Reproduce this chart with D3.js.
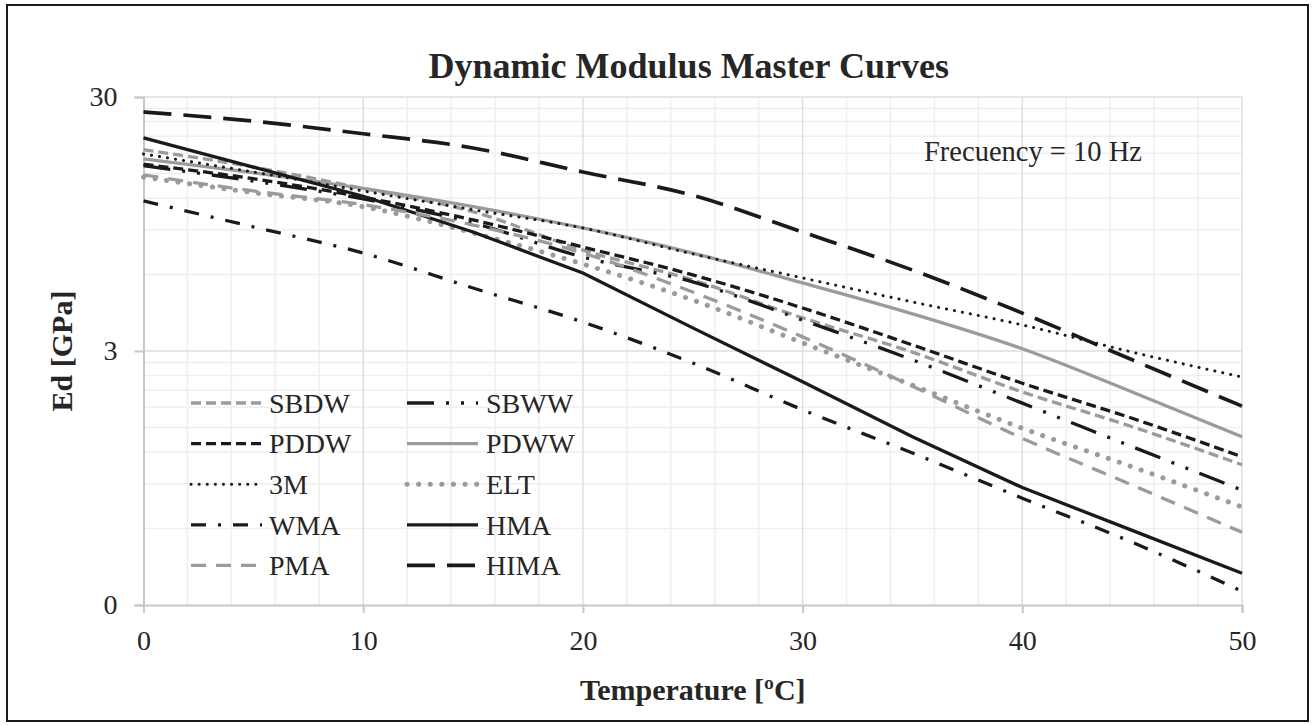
<!DOCTYPE html>
<html>
<head>
<meta charset="utf-8">
<script src="https://d3js.org/d3.v7.min.js"></script>
<style>
  body { margin: 0; background: #fff; }
  text { font-family: "Liberation Serif", "Times New Roman", serif; fill: #262626; }
</style>
</head>
<body>
<div id="chart"></div>
<script>
"use strict"

// temperatures [ºC] and dynamic modulus [GPa]
const temps = [0, 5, 10, 15, 20, 25, 30, 35, 40, 45, 50];
const sbdw = [18.6, 15.9, 13.1, 10.6, 7.49, 5.71, 4.05, 2.97, 2.07, 1.51, 1.07];
const sbww = [16.1, 14.0, 11.9, 9.57, 7.03, 5.61, 3.97, 2.77, 1.87, 1.26, 0.85];
const pddw = [16.3, 14.3, 12.1, 9.84, 7.70, 5.98, 4.43, 3.17, 2.24, 1.63, 1.15];
const pdww = [17.1, 15.1, 13.1, 11.1, 9.15, 7.29, 5.56, 4.20, 3.06, 2.07, 1.38];
const m3   = [17.9, 15.2, 12.8, 10.8, 9.15, 7.23, 5.82, 4.68, 3.80, 2.97, 2.37];
const elt  = [14.5, 12.6, 11.1, 8.75, 6.60, 4.76, 3.23, 2.20, 1.49, 1.05, 0.73];
const wma  = [11.7, 9.24, 7.29, 5.31, 3.90, 2.69, 1.76, 1.19, 0.79, 0.53, 0.34];
const hma  = [20.7, 15.9, 12.2, 8.82, 6.08, 3.70, 2.27, 1.38, 0.87, 0.59, 0.40];
const pma  = [14.8, 12.8, 11.3, 9.40, 7.29, 5.12, 3.41, 2.18, 1.36, 0.89, 0.58];
const hima = [26.2, 24.1, 21.5, 18.9, 15.2, 12.3, 8.82, 6.25, 4.23, 2.77, 1.82];

const xTicks = [0, 10, 20, 30, 40, 50];
const yTicks = [0.3, 3, 30];

// series in legend order (two columns, filled row by row)
const series = [
  {name: "SBDW", values: sbdw, color: "#9b9b9b", width: 3.3, dash: "10 5"},
  {name: "SBWW", values: sbww, color: "#1a1a1a", width: 3.3, dash: "27 12 3 12 3 12"},
  {name: "PDDW", values: pddw, color: "#1a1a1a", width: 3.3, dash: "10 5"},
  {name: "PDWW", values: pdww, color: "#9b9b9b", width: 3.3, dash: null},
  {name: "3M",   values: m3,   color: "#1a1a1a", width: 3,   dash: "0.1 8", cap: "round"},
  {name: "ELT",  values: elt,  color: "#9b9b9b", width: 5,   dash: "0.1 11.5", cap: "round"},
  {name: "WMA",  values: wma,  color: "#1a1a1a", width: 3.3, dash: "15 12 3 12"},
  {name: "HMA",  values: hma,  color: "#1a1a1a", width: 3.3, dash: null, straight: true},
  {name: "PMA",  values: pma,  color: "#9b9b9b", width: 3.3, dash: "15 10"},
  {name: "HIMA", values: hima, color: "#1a1a1a", width: 3.7, dash: "28 12"}
];

const W = 1315, H = 725;
const plot = {left: 143.5, right: 1242, top: 97, bottom: 605};

const svg = d3.select("#chart")
  .append("svg")
    .attr("width", W)
    .attr("height", H);

svg.append("rect")
  .attr("width", W).attr("height", H)
  .attr("fill", "#fff");

// outer frame
svg.append("rect")
  .attr("x", 7).attr("y", 5)
  .attr("width", 1301).attr("height", 716)
  .attr("fill", "none")
  .attr("stroke", "#1a1a1a")
  .attr("stroke-width", 2);

// scales
const x = d3.scaleLinear()
  .domain([0, 50])
  .range([plot.left, plot.right]);

const y = d3.scaleLog()
  .domain([0.3, 30])
  .range([plot.bottom, plot.top]);

// gridlines - minor first, then major
const xMinor = d3.range(2, 50, 2).filter(d => d % 10 !== 0);
const yMinor = [];
[0.3, 3].forEach(dec => d3.range(2, 10).forEach(k => yMinor.push(dec * k)));

const grid = svg.append("g");
grid.selectAll(".vmin")
  .data(xMinor).enter().append("line")
    .attr("x1", d => x(d)).attr("x2", d => x(d))
    .attr("y1", plot.top).attr("y2", plot.bottom)
    .attr("stroke", "#efefef").attr("stroke-width", 1.5);
grid.selectAll(".hmin")
  .data(yMinor).enter().append("line")
    .attr("x1", plot.left).attr("x2", plot.right)
    .attr("y1", d => y(d)).attr("y2", d => y(d))
    .attr("stroke", "#efefef").attr("stroke-width", 1.5);
grid.selectAll(".vmaj")
  .data(xTicks.slice(1)).enter().append("line")
    .attr("x1", d => x(d)).attr("x2", d => x(d))
    .attr("y1", plot.top).attr("y2", plot.bottom)
    .attr("stroke", "#dedede").attr("stroke-width", 1.5);
grid.selectAll(".hmaj")
  .data(yTicks.slice(1)).enter().append("line")
    .attr("x1", plot.left).attr("x2", plot.right)
    .attr("y1", d => y(d)).attr("y2", d => y(d))
    .attr("stroke", "#dedede").attr("stroke-width", 1.5);

// axes
const xAxis = svg.append("g")
  .attr("transform", "translate(0," + plot.bottom + ")")
  .call(d3.axisBottom(x).tickValues(xTicks).tickSize(8).tickPadding(17).tickFormat(d3.format("d")));
const yAxis = svg.append("g")
  .attr("transform", "translate(" + plot.left + ",0)")
  .call(d3.axisLeft(y).tickValues(yTicks).tickSize(9).tickPadding(17).tickFormat(d3.format(".0f")));

[xAxis, yAxis].forEach(a => {
  a.select(".domain").attr("stroke", "#c8c8c8").attr("stroke-width", 2);
  a.selectAll(".tick line").attr("stroke", "#c8c8c8").attr("stroke-width", 2);
  a.selectAll(".tick text")
    .attr("font-family", "Liberation Serif")
    .attr("font-size", 28)
    .attr("fill", "#262626");
});

// lines
const smooth = d3.line()
  .x((d, i) => x(temps[i]))
  .y(d => y(d))
  .curve(d3.curveMonotoneX);
const straight = d3.line()
  .x((d, i) => x(temps[i]))
  .y(d => y(d));

svg.append("g")
  .selectAll("path")
  .data(series)
  .enter()
  .append("path")
    .attr("d", d => d.straight ? straight(d.values) : smooth(d.values))
    .attr("fill", "none")
    .attr("stroke", d => d.color)
    .attr("stroke-width", d => d.width)
    .attr("stroke-dasharray", d => d.dash)
    .attr("stroke-linecap", d => d.cap || "butt");

// legend
const legend = svg.append("g");
const item = legend.selectAll("g")
  .data(series)
  .enter()
  .append("g")
    .attr("transform", (d, i) => "translate(" + (i % 2 ? 407 : 191) + "," + (403 + Math.floor(i / 2) * 40.6) + ")");

item.append("line")
  .attr("x1", 0).attr("x2", 71)
  .attr("stroke", d => d.color)
  .attr("stroke-width", d => d.width)
  .attr("stroke-dasharray", d => d.dash)
  .attr("stroke-linecap", d => d.cap || "butt");

item.append("text")
  .attr("x", (d, i) => i % 2 ? 79 : 78)
  .attr("dy", "0.35em")
  .attr("font-size", 28)
  .text(d => d.name);

// titles
svg.append("text")
  .attr("x", (plot.left + plot.right) / 2 - 4)
  .attr("y", 78)
  .attr("text-anchor", "middle")
  .attr("font-size", 36)
  .attr("font-weight", "bold")
  .text("Dynamic Modulus Master Curves");

svg.append("text")
  .attr("x", 924)
  .attr("y", 161)
  .attr("font-size", 28.5)
  .text("Frecuency = 10 Hz");

svg.append("text")
  .attr("x", (plot.left + plot.right) / 2)
  .attr("y", 700)
  .attr("text-anchor", "middle")
  .attr("font-size", 30)
  .attr("font-weight", "bold")
  .text("Temperature [ºC]");

svg.append("text")
  .attr("transform", "translate(72," + y(3) + ") rotate(-90)")
  .attr("text-anchor", "middle")
  .attr("font-size", 30)
  .attr("font-weight", "bold")
  .text("Ed [GPa]");
</script>
</body>
</html>
